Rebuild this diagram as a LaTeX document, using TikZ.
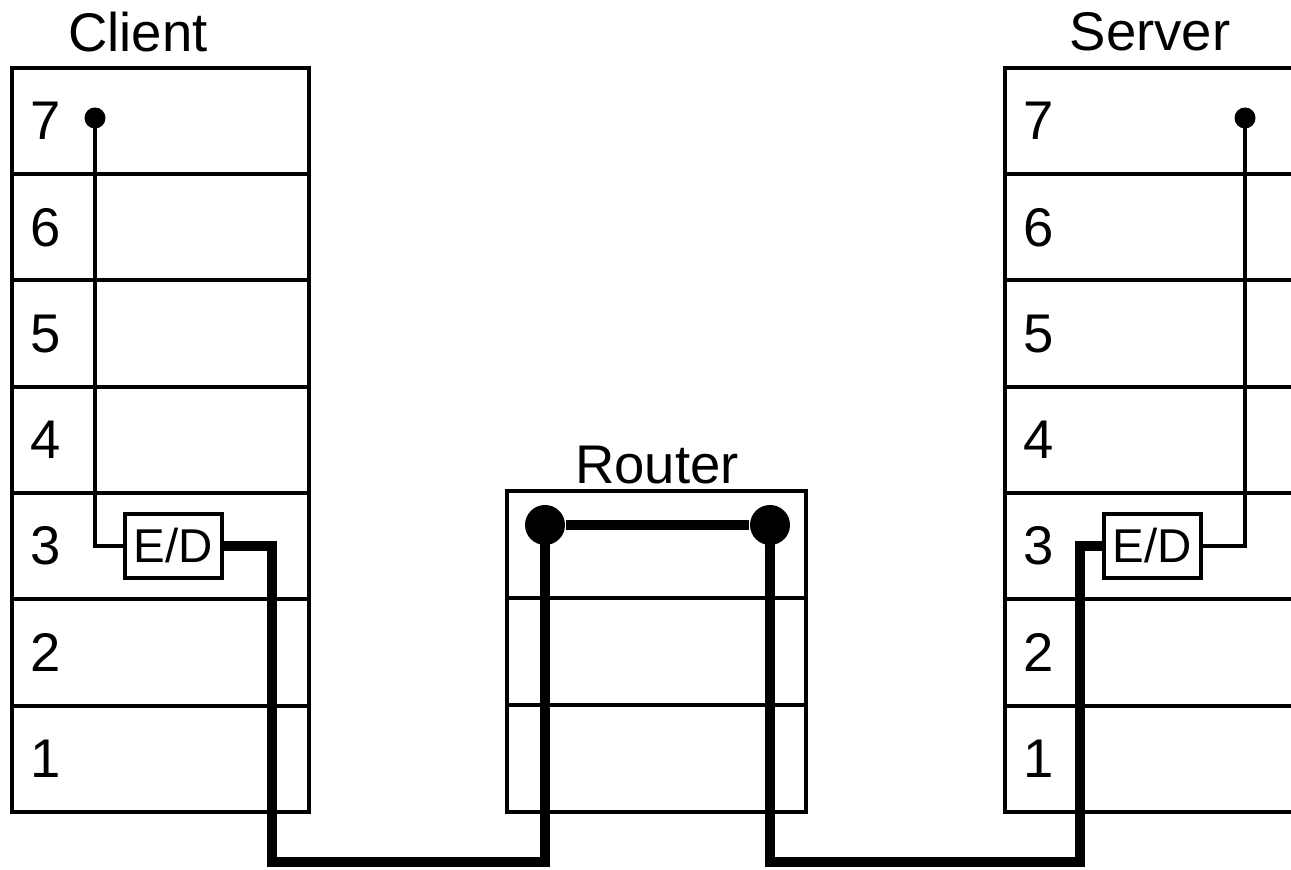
\documentclass[tikz,border=0pt]{standalone}
\usepackage{fontspec}
\setmainfont{Liberation Sans}
\usetikzlibrary{positioning}

\begin{document}
\begin{tikzpicture}[node distance=0pt,
    layer/.style={draw, line width=1.1pt, minimum width=2.97cm, minimum height=1.063cm,
        text width=2.61cm, inner xsep=0.18cm, inner ysep=0pt, outer sep=0pt, align=left,
        font=\fontsize{15.5}{18}\selectfont},
    title/.style={font=\fontsize{15.5}{18}\selectfont},
    ed/.style={draw, line width=1.1pt, minimum width=0.97cm, minimum height=0.64cm,
        inner sep=0pt, font=\fontsize{13.5}{16}\selectfont},
    dot/.style={circle, fill, inner sep=0pt, minimum size=#1},
    thin/.style={line width=1.1pt},
    thick/.style={line width=2.9pt}]
            \useasboundingbox (0,0) rectangle (12.91,8.70);
            % client stack
            \node [title] (client) at (1.38,8.38) {Client};
            \node [layer] (c7) at (1.605,7.49) {7};
            \node [layer] [below=of c7] (c6) {6};
            \node [layer] [below=of c6] (c5) {5};
            \node [layer] [below=of c5] (c4) {4};
            \node [layer] [below=of c4] (c3) {3};
            \node [layer] [below=of c3] (c2) {2};
            \node [layer] [below=of c2] (c1) {1};
            % router
            \node [title] (router) at (6.57,4.05) {Router};
            \node [layer, minimum width=2.99cm, minimum height=1.07cm] (r3) at (6.565,3.255) {};
            \node [layer, minimum width=2.99cm, minimum height=1.07cm] [below=of r3] (r2) {};
            \node [layer, minimum width=2.99cm, minimum height=1.07cm] [below=of r2] (r1) {};
            % server stack
            \node [title] (server) at (11.50,8.38) {Server};
            \node [layer] (s7) at (11.535,7.49) {7};
            \node [layer] [below=of s7] (s6) {6};
            \node [layer] [below=of s6] (s5) {5};
            \node [layer] [below=of s5] (s4) {4};
            \node [layer] [below=of s4] (s3) {3};
            \node [layer] [below=of s3] (s2) {2};
            \node [layer] [below=of s2] (s1) {1};
            % end points and boxes
            \node [dot=0.21cm] (cdot) at (0.95,7.52) {};
            \node [dot=0.21cm] (sdot) at (12.45,7.52) {};
            \node [ed] (ced) at (1.735,3.24) {E/D};
            \node [ed] (sed) at (11.525,3.24) {E/D};
            \node [dot=0.40cm] (rdotl) at (5.45,3.45) {};
            \node [dot=0.40cm] (rdotr) at (7.70,3.45) {};
            \coordinate (lowl) at (2.72,0.08);
            \coordinate (lowr) at (10.80,0.08);
            % connections
            \draw [thin] (cdot.center) |- (ced.west);
            \draw [thin] (sed.east) -| (sdot.center);
            \draw [thick] (ced.east) -| (lowl) -| (rdotl.center);
            \draw [thick] (rdotl) -- (rdotr);
            \draw [thick] (rdotr.center) |- (lowr) |- (sed.west);
\end{tikzpicture}
\end{document}
